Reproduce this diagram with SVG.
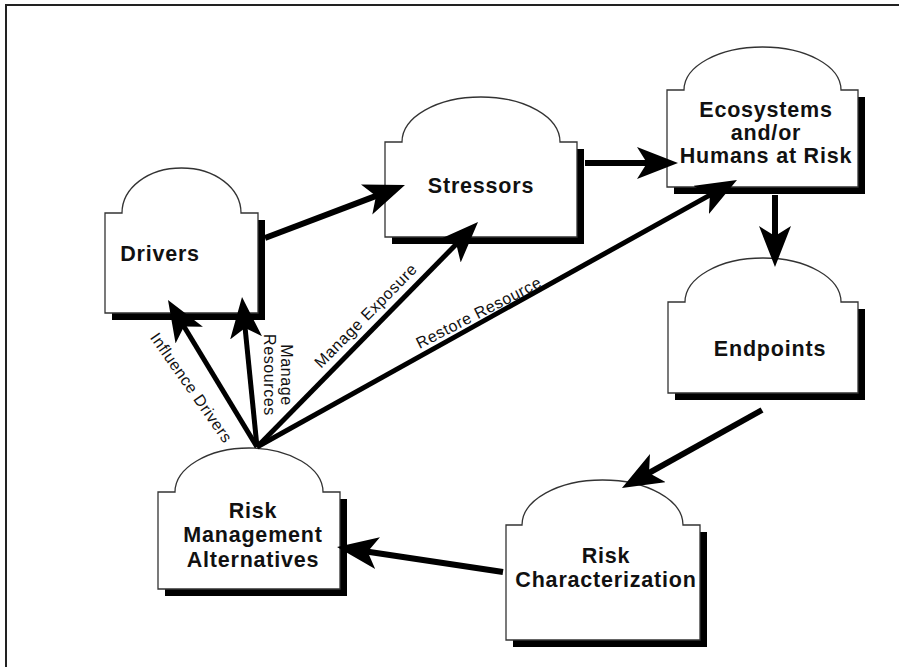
<svg xmlns="http://www.w3.org/2000/svg" width="899" height="667" viewBox="0 0 899 667">
  <style>
    .shadow { fill: #000; }
    .body { fill: #fff; stroke: #333; stroke-width: 1.3; }
    .name { font-family: "Liberation Sans", Arial, sans-serif; font-weight: bold; font-size: 21.5px; letter-spacing: 0.8px; fill: #111; text-anchor: middle; }
    .lbl { font-family: "Liberation Sans", Arial, sans-serif; font-size: 16px; letter-spacing: 0.6px; fill: #111; text-anchor: middle; }
    .wire { stroke: #000; stroke-width: 6; fill: none; marker-end: url(#head); }
    .spoke { stroke: #000; stroke-width: 5; fill: none; marker-end: url(#head); }
  </style>
  <defs>
    <marker id="head" markerUnits="userSpaceOnUse" markerWidth="44" markerHeight="34" refX="13" refY="16" orient="auto" viewBox="0 0 44 34">
      <path d="M0,0 L41,16 L0,32 L10,16 Z" fill="#000"/>
    </marker>
  </defs>

  <rect width="899" height="667" fill="#fff"/>
  <!-- page frame -->
  <path d="M6,667 V5 H899" fill="none" stroke="#222" stroke-width="2"/>

  <g id="drivers">
    <rect class="shadow" x="112" y="220" width="153" height="100"/>
    <path class="body" d="M105,213 H122 C122,188 148,168 181.5,168 C215,168 241,188 241,213 H258 V313 H105 Z"/>
    <text class="name" x="160" y="261">Drivers</text>
  </g>

  <g id="stressors">
    <rect class="shadow" x="392" y="149" width="192" height="95"/>
    <path class="body" d="M385,142 H402 C402,117 437,97 481,97 C525,97 560,117 560,142 H577 V237 H385 Z"/>
    <text class="name" x="481" y="193">Stressors</text>
  </g>

  <g id="ecosystems">
    <rect class="shadow" x="674" y="97" width="191" height="97"/>
    <path class="body" d="M667,90 H684 C684,66 719,47 762.5,47 C806,47 841,66 841,90 H858 V187 H667 Z"/>
    <text class="name" x="766" y="117">Ecosystems</text>
    <text class="name" x="766" y="140">and/or</text>
    <text class="name" x="766" y="163">Humans at Risk</text>
  </g>

  <g id="endpoints">
    <rect class="shadow" x="675" y="309" width="190" height="91"/>
    <path class="body" d="M668,302 H685 C685,278 719,258 763,258 C807,258 841,278 841,302 H858 V393 H668 Z"/>
    <text class="name" x="770" y="356">Endpoints</text>
  </g>

  <g id="risk-characterization">
    <rect class="shadow" x="513" y="532" width="194" height="115"/>
    <path class="body" d="M506,525 H522 C522,500 558,480 602.5,480 C647,480 683,500 683,525 H700 V640 H506 Z"/>
    <text class="name" x="606" y="563">Risk</text>
    <text class="name" x="606" y="587">Characterization</text>
  </g>

  <g id="risk-management">
    <rect class="shadow" x="165" y="499" width="182" height="97"/>
    <path class="body" d="M158,492 H175 C175,468 208,448 249,448 C290,448 323,468 323,492 H340 V589 H158 Z"/>
    <text class="name" x="253" y="518">Risk</text>
    <text class="name" x="253" y="542">Management</text>
    <text class="name" x="253" y="567">Alternatives</text>
  </g>

  <g id="connectors">
    <line class="wire" x1="265" y1="238" x2="378.8" y2="194.9"/>
    <line class="wire" x1="585" y1="163" x2="650" y2="163"/>
    <line class="wire" x1="775" y1="195" x2="775" y2="239"/>
    <line class="wire" x1="762" y1="410" x2="646.4" y2="474.4"/>
    <line class="wire" x1="503" y1="572" x2="364.7" y2="551.2"/>

    <line class="spoke" x1="257" y1="447" x2="182.5" y2="324"/>
    <line class="spoke" x1="257" y1="447" x2="244.8" y2="324.9"/>
    <line class="spoke" x1="257" y1="447" x2="458.4" y2="242"/>
    <line class="spoke" x1="257" y1="447" x2="712.5" y2="193.6"/>

    <text class="lbl" transform="translate(191,388) rotate(55)" y="5">Influence Drivers</text>
    <g transform="translate(279,375) rotate(90)">
      <text class="lbl" y="-2">Manage</text>
      <text class="lbl" y="15">Resources</text>
    </g>
    <text class="lbl" transform="translate(366,316) rotate(-45.5)" y="5">Manage Exposure</text>
    <text class="lbl" transform="translate(479,313) rotate(-27)" y="5">Restore Resource</text>
  </g>
</svg>
